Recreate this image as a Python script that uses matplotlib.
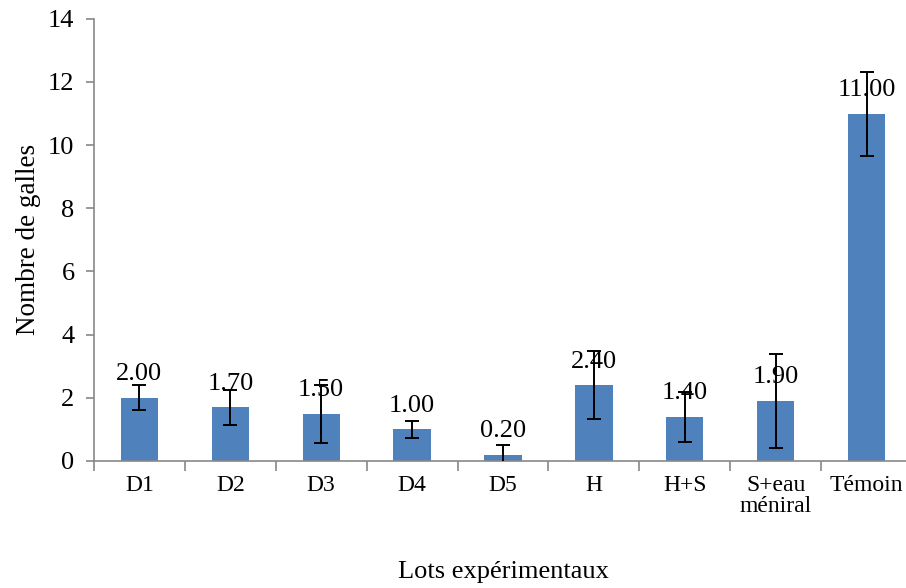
import matplotlib.pyplot as plt
import numpy as np

plt.rcParams['font.family'] = ['Liberation Serif', 'DejaVu Serif']

categories = ['D1', 'D2', 'D3', 'D4', 'D5', 'H', 'H+S', 'S+eau\nméniral', 'Témoin']
values = [2.00, 1.70, 1.50, 1.00, 0.20, 2.40, 1.40, 1.90, 11.00]
errors = [0.40, 0.56, 0.92, 0.26, 0.32, 1.07, 0.80, 1.50, 1.33]
labels = ['2.00', '1.70', '1.50', '1.00', '0.20', '2.40', '1.40', '1.90', '11.00']

fig = plt.figure(figsize=(9.06, 5.88), dpi=100)
ax = fig.add_axes([0.1037, 0.216, 0.903, 0.752])

x = np.arange(len(categories))
ax.bar(x, values, width=0.41, color='#4F81BD', zorder=2)
ax.errorbar(x, values, yerr=errors, fmt='none', ecolor='black', elinewidth=1.4,
            capsize=4.7, capthick=1.4, zorder=3)
for xi, v, lab in zip(x, values, labels):
    ax.annotate(lab, (xi, v), xytext=(0, 9), textcoords='offset points',
                ha='center', va='bottom', fontsize=19, zorder=4)

ax.set_xlim(-0.5, len(categories) - 0.5)
ax.set_ylim(0, 14)
ax.set_yticks(np.arange(0, 15, 2))
ax.set_yticklabels([str(t) for t in range(0, 15, 2)], fontsize=19)

ax.set_xticks(np.arange(-0.5, len(categories), 1.0))
ax.set_xticklabels([])
ax.set_xticks(x, minor=True)
ax.set_xticklabels(categories, minor=True, fontsize=17, linespacing=1.0)
ax.tick_params(axis='x', which='major', direction='out', length=7, color='#888888', width=1.2)
ax.tick_params(axis='x', which='minor', length=0, pad=10)
ax.tick_params(axis='y', direction='out', length=6, color='#888888', width=1.2, pad=8)

for s in ['top', 'right']:
    ax.spines[s].set_visible(False)
for s in ['left', 'bottom']:
    ax.spines[s].set_color('#888888')
    ax.spines[s].set_linewidth(1.2)

ax.set_ylabel('Nombre de galles', fontsize=19.5, labelpad=5)
ax.set_xlabel('Lots expérimentaux', fontsize=19, labelpad=32)

fig.savefig('out.png', dpi=100)
